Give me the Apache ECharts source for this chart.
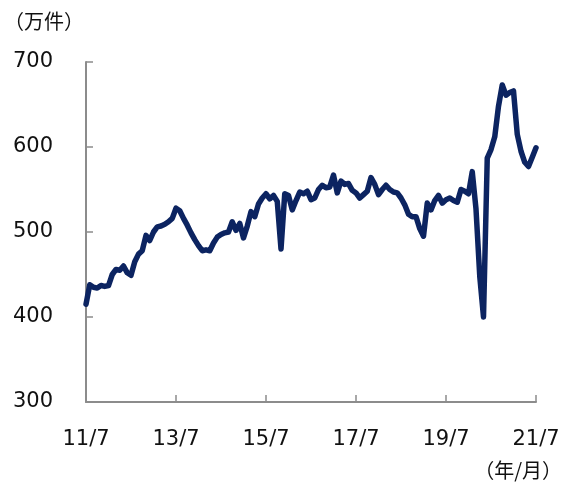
<!DOCTYPE html>
<html><head><meta charset="utf-8">
<script src="https://cdn.jsdelivr.net/npm/echarts@6/dist/echarts.min.js"></script>
<style>html,body{margin:0;padding:0;background:#fff}#c{width:565px;height:483px}</style>
</head><body><div id="c"></div>
<script>
// Monthly values, 2011/7 .. 2021/7 (万件)
const startYear = 2011, startMonth = 7;
const values = [
415,438,435,434,437,436,437,450,456,455,460,452,449,465,474,478,496,490,500,506,
507,509,512,516,528,525,516,508,499,491,484,478,479,478,487,494,497,499,500,512,
502,510,493,507,524,518,533,540,545,539,543,536,480,545,543,526,537,547,545,548,
538,540,550,555,552,553,567,546,560,556,557,549,546,540,544,548,564,556,544,550,
555,550,547,546,540,532,521,518,518,504,495,534,526,537,543,534,538,540,537,535,
550,548,545,571,527,448,400,587,597,612,648,673,661,664,666,615,595,582,577,588,
599
];
const yTicks = [300, 400, 500, 600, 700];
const yUnit = '（万件）';
const xUnit = '（年/月）';

const categories = values.map((v, i) => {
  const m0 = startMonth - 1 + i;
  const y = startYear + Math.floor(m0 / 12);
  const m = (m0 % 12) + 1;
  return String(y % 100).padStart(2, '0') + '/' + m;
});

const font = '"DejaVu Sans", Verdana, "Noto Sans CJK JP", sans-serif';
const chart = echarts.init(document.getElementById('c'), null, {renderer: 'canvas'});
chart.setOption({
  animation: false,
  grid: {left: 86, right: 29, top: 62, bottom: 81, containLabel: false},
  xAxis: {
    type: 'category', data: categories, boundaryGap: false,
    axisLine: {lineStyle: {color: '#8c8c8c', width: 2}},
    axisTick: {inside: true, length: 7, interval: 23, lineStyle: {color: '#8c8c8c', width: 1.5}},
    axisLabel: {interval: 23, margin: 27, fontSize: 21, color: '#111', fontFamily: font},
    splitLine: {show: false}
  },
  yAxis: {
    type: 'value', min: yTicks[0], max: yTicks[yTicks.length - 1], interval: 100,
    axisLine: {show: true, lineStyle: {color: '#8c8c8c', width: 2}},
    axisTick: {show: true, inside: true, length: 7, lineStyle: {color: '#8c8c8c', width: 1.5}},
    axisLabel: {margin: 33, fontSize: 21, color: '#111', fontFamily: font, padding: [0,0,8,0]},
    splitLine: {show: false}
  },
  series: [{
    type: 'line', data: values, symbol: 'none', smooth: false,
    lineStyle: {color: '#0c2461', width: 5.5, join: 'round', cap: 'round'}
  }],
  graphic: [
    {type: 'text', left: 4, top: 11, style: {text: yUnit, font: '20px "Noto Sans CJK JP", sans-serif', fill: '#111'}},
    {type: 'text', right: 3, top: 460, style: {text: xUnit, font: '20px "Noto Sans CJK JP", sans-serif', fill: '#111'}}
  ]
});
</script></body></html>
